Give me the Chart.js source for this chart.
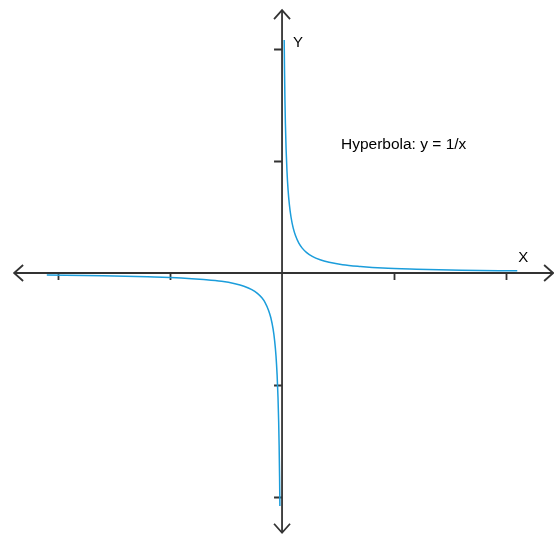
<!DOCTYPE html>
<html>
<head>
<meta charset="utf-8">
<title>Hyperbola: y = 1/x</title>
<script src="https://cdn.jsdelivr.net/npm/chart.js@4/dist/chart.umd.min.js"></script>
<style>
    html, body { margin: 0; padding: 0; background: #fff; }
    #chart { display: block; }
</style>
</head>
<body>
<canvas id="chart" width="554" height="535"></canvas>
<script>
// Curve samples (right branch, then left branch)
const rightX = [0.096, 0.11, 0.13, 0.15, 0.18, 0.22, 0.27, 0.33, 0.4, 0.5, 0.6, 0.75, 0.9, 1.1, 1.35, 1.7, 2.1, 2.7, 3.5, 4.5, 6, 8, 10.5];
const rightY = [10.4, 9.09, 7.69, 6.67, 5.56, 4.55, 3.7, 3.03, 2.5, 2, 1.67, 1.33, 1.11, 0.91, 0.74, 0.59, 0.48, 0.37, 0.29, 0.22, 0.17, 0.125, 0.095];
const leftX  = [-10.5, -8, -6, -4.5, -3.5, -2.7, -2.1, -1.7, -1.35, -1.1, -0.9, -0.75, -0.6, -0.5, -0.4, -0.33, -0.27, -0.22, -0.18, -0.15, -0.13, -0.11, -0.096];
const leftY  = [-0.095, -0.125, -0.17, -0.22, -0.29, -0.37, -0.48, -0.59, -0.74, -0.91, -1.11, -1.33, -1.67, -2, -2.5, -3.03, -3.7, -4.55, -5.56, -6.67, -7.69, -9.09, -10.4];

// Axis ticks and extents
const xTicks = [-10, -5, 5, 10];
const yTicks = [-10, -5, 5, 10];
const xAxisEnds = [-11.96, 12.1];
const yAxisEnds = [-11.6, 11.74];

const titleText = 'Hyperbola: y = 1/x';

const toPoints = (xs, ys) => xs.map((x, i) => ({ x: x, y: ys[i] }));

// Draws the crossing axes with arrows, ticks and labels
const axesPlugin = {
    id: 'axes',
    beforeDatasetsDraw(chart) {
        const ctx = chart.ctx;
        const sx = chart.scales.x;
        const sy = chart.scales.y;
        const x0 = sx.getPixelForValue(0);
        const y0 = sy.getPixelForValue(0);
        const left = sx.getPixelForValue(xAxisEnds[0]);
        const right = sx.getPixelForValue(xAxisEnds[1]);
        const top = sy.getPixelForValue(yAxisEnds[1]);
        const bottom = sy.getPixelForValue(yAxisEnds[0]);
        const a = 8, al = 9;

        ctx.save();
        ctx.strokeStyle = '#333';
        ctx.lineWidth = 1.8;
        ctx.lineCap = 'butt';

        ctx.beginPath();
        ctx.moveTo(left, y0); ctx.lineTo(right, y0);
        ctx.moveTo(x0, top); ctx.lineTo(x0, bottom);
        ctx.stroke();

        // arrows
        ctx.beginPath();
        ctx.moveTo(right - al, y0 - a); ctx.lineTo(right, y0); ctx.lineTo(right - al, y0 + a);
        ctx.moveTo(left + al, y0 - a); ctx.lineTo(left, y0); ctx.lineTo(left + al, y0 + a);
        ctx.moveTo(x0 - a, top + al); ctx.lineTo(x0, top); ctx.lineTo(x0 + a, top + al);
        ctx.moveTo(x0 - a, bottom - al); ctx.lineTo(x0, bottom); ctx.lineTo(x0 + a, bottom - al);
        ctx.stroke();

        // ticks
        ctx.beginPath();
        xTicks.forEach(v => {
            const px = Math.round(sx.getPixelForValue(v)) + 0.5;
            ctx.moveTo(px, y0); ctx.lineTo(px, y0 + 7);
        });
        yTicks.forEach(v => {
            const py = Math.round(sy.getPixelForValue(v)) + 0.5;
            ctx.moveTo(x0 - 8, py); ctx.lineTo(x0, py);
        });
        ctx.stroke();

        // labels
        ctx.fillStyle = '#000';
        ctx.textBaseline = 'alphabetic';
        ctx.textAlign = 'left';
        ctx.font = '15px "Liberation Sans", Arial, sans-serif';
        ctx.fillText('Y', sx.getPixelForValue(0.49), sy.getPixelForValue(10.09));
        ctx.fillText('X', sx.getPixelForValue(10.54), sy.getPixelForValue(0.49));
        ctx.font = '15.5px "Liberation Sans", Arial, sans-serif';
        ctx.fillText(titleText, sx.getPixelForValue(2.63), sy.getPixelForValue(5.54));
        ctx.restore();
    }
};

const curveStyle = {
    showLine: true,
    borderColor: '#1b9ddb',
    borderWidth: 1.5,
    pointRadius: 0,
    fill: false,
    cubicInterpolationMode: 'monotone'
};

new Chart(document.getElementById('chart'), {
    type: 'scatter',
    data: {
        datasets: [
            Object.assign({ label: 'x > 0', data: toPoints(rightX, rightY) }, curveStyle),
            Object.assign({ label: 'x < 0', data: toPoints(leftX, leftY) }, curveStyle)
        ]
    },
    options: {
        responsive: false,
        animation: false,
        layout: { padding: 0 },
        plugins: {
            legend: { display: false },
            tooltip: { enabled: false }
        },
        scales: {
            x: { type: 'linear', min: -12.59, max: 12.14, display: false },
            y: { type: 'linear', min: -11.7, max: 12.19, display: false }
        }
    },
    plugins: [axesPlugin]
});
</script>
</body>
</html>
